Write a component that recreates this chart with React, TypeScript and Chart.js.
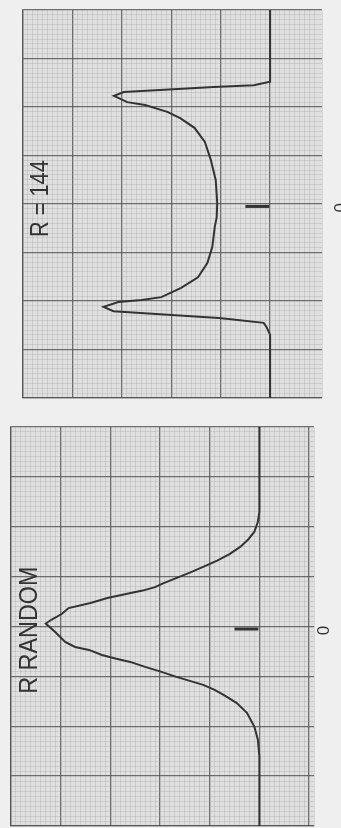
import { useEffect, useRef } from "react";
import { Chart, registerables } from "chart.js";

Chart.register(...registerables);

// Upper trace: R = 144 (position along the sweep vs. deflection)
const ringPos = [
  -4, -2.56, -2.52, -2.45, -2.41, -2.35, -2.31, -2.23, -2.1, -2.04, -1.9, -1.77, -1.57, -1.28,
  -0.91, -0.49, -0.02, 0.27, 0.47, 0.89, 1.22, 1.51, 1.73, 1.92, 1.98, 2.02, 2.12, 2.21, 2.29,
  2.35, 2.37, 2.45, 2.54, 2.7, 4,
];
const ringVal = [
  0, 0, 0, 0.33, 1.14, 2.23, 2.96, 3.16, 2.89, 2.53, 2.08, 1.82, 1.53, 1.32,
  1.2, 1.1, 1.07, 1.08, 1.12, 1.17, 1.27, 1.46, 1.8, 2.2, 2.6, 3.07, 3.37, 3.17, 1.99,
  1.04, 0.84, 0.13, 0.07, 0, 0,
];

// Lower trace: R random
const randomPos = [
  -4, -2.3, -2.1, -1.9, -1.75, -1.6, -1.45, -1.32, -1.2, -1.08, -0.96, -0.86, -0.79, -0.72,
  -0.67, -0.57, -0.47, -0.37, -0.25, -0.14, -0.06, 0.11, 0.31, 0.41, 0.47, 0.57, 0.64, 0.71,
  0.81, 0.9, 1.01, 1.09, 1.17, 1.27, 1.37, 1.53, 1.73, 2.01, 2.27, 2.6, 4,
];
const randomVal = [
  0, 0, 0.03, 0.1, 0.22, 0.38, 0.6, 0.85, 1.12, 1.4, 1.7, 1.95, 2.1, 2.35,
  2.59, 3.06, 3.4, 3.84, 3.98, 4.18, 4.3, 4.11, 3.91, 3.71, 3.43, 3.17, 2.9, 2.6,
  2.3, 2.0, 1.67, 1.4, 1.13, 0.9, 0.72, 0.46, 0.25, 0.1, 0.03, 0, 0,
];

// Short reference mark at the zero position
const markerPos = [0.05, 0.05];
const markerVal = [0.02, 0.5];

const topLabel = "R = 144";
const bottomLabel = "R RANDOM";
const zeroLabel = "0";

const PAPER = "#e0e0e0";
const MAJOR = "rgba(80,80,80,0.8)";
const MINOR = "rgba(160,160,160,0.3)";
const INK = "#333333";
const FONT = "'Liberation Sans', Arial, sans-serif";

type PanelProps = {
  top: number;
  pos: number[];
  val: number[];
  label: string;
  labelVal: number;
  labelPos: number;
  labelSize: number;
  labelSqueeze: number;
  xMin: number;
  padding: { left: number; right: number; top: number; bottom: number };
  zeroOffset: number;
  zeroPos: number;
};

function isMajor(v: number) {
  return Math.abs(v - Math.round(v)) < 1e-6;
}

function Panel(props: PanelProps) {
  const ref = useRef<HTMLCanvasElement | null>(null);

  useEffect(() => {
    const canvas = ref.current;
    if (!canvas) return;
    const { pos, val, label, labelVal, labelPos, labelSize, labelSqueeze, xMin, padding, zeroOffset, zeroPos } =
      props;

    const paperPlugin = {
      id: "paper",
      beforeDraw(chart: Chart) {
        const { ctx, chartArea } = chart;
        ctx.save();
        ctx.fillStyle = PAPER;
        ctx.fillRect(chartArea.left, chartArea.top, chartArea.right - chartArea.left, chartArea.bottom - chartArea.top);
        ctx.restore();
      },
    };

    const textPlugin = {
      id: "rotatedText",
      afterDatasetsDraw(chart: Chart) {
        const { ctx } = chart;
        const xs = chart.scales.x;
        const ys = chart.scales.y;
        ctx.save();
        ctx.fillStyle = INK;
        // panel title, reading upward
        ctx.translate(xs.getPixelForValue(labelVal), ys.getPixelForValue(labelPos));
        ctx.rotate(-Math.PI / 2);
        ctx.scale(labelSqueeze, 1);
        ctx.font = `${labelSize}px ${FONT}`;
        ctx.textAlign = "left";
        ctx.textBaseline = "alphabetic";
        ctx.fillText(label, 0, 0);
        ctx.restore();

        ctx.save();
        ctx.fillStyle = INK;
        ctx.translate(xs.getPixelForValue(xMin) + zeroOffset, ys.getPixelForValue(zeroPos));
        ctx.rotate(-Math.PI / 2);
        ctx.font = `17px ${FONT}`;
        ctx.textAlign = "center";
        ctx.textBaseline = "middle";
        ctx.fillText(zeroLabel, 0, 0);
        ctx.restore();
      },
    };

    const chart = new Chart(canvas, {
      type: "scatter",
      data: {
        datasets: [
          {
            data: pos.map((p, i) => ({ x: val[i], y: p })),
            showLine: true,
            borderColor: INK,
            borderWidth: 2,
            pointRadius: 0,
            tension: 0,
          },
          {
            data: markerPos.map((p, i) => ({ x: markerVal[i], y: p })),
            showLine: true,
            borderColor: INK,
            borderWidth: 3,
            pointRadius: 0,
          },
        ],
      },
      options: {
        animation: false,
        responsive: false,
        devicePixelRatio: 1,
        layout: { padding },
        plugins: { legend: { display: false }, tooltip: { enabled: false } },
        scales: {
          x: {
            type: "linear",
            reverse: true,
            min: xMin,
            max: 5,
            ticks: { display: false, stepSize: 0.1, maxTicksLimit: 500, autoSkip: false },
            grid: {
              drawTicks: false,
              color: (c: any) => (isMajor(c.tick.value) || c.index === 0 ? MAJOR : MINOR),
              lineWidth: (c: any) => (isMajor(c.tick.value) || c.index === 0 ? 1.3 : 1),
            },
            border: { display: true, color: MAJOR, width: 1.3 },
          },
          y: {
            type: "linear",
            reverse: true,
            min: -4,
            max: 4,
            ticks: { display: false, stepSize: 0.1, maxTicksLimit: 500, autoSkip: false },
            grid: {
              drawTicks: false,
              color: (c: any) => (isMajor(c.tick.value) ? MAJOR : MINOR),
              lineWidth: (c: any) => (isMajor(c.tick.value) ? 1.3 : 1),
            },
            border: { display: true, color: MAJOR, width: 1.3 },
          },
        },
      },
      plugins: [paperPlugin, textPlugin],
    });

    return () => chart.destroy();
  }, []);

  return (
    <canvas
      ref={ref}
      width={341}
      height={414}
      style={{ position: "absolute", left: 0, top: props.top, width: 341, height: 414, display: "block" }}
    />
  );
}

export default function App() {
  return (
    <div
      style={{
        position: "absolute",
        left: 0,
        top: 0,
        width: 341,
        height: 828,
        background: "#efefef",
        overflow: "hidden",
      }}
    >
      <Panel
        top={0}
        pos={ringPos}
        val={ringVal}
        label={topLabel}
        labelVal={4.5}
        labelPos={0.68}
        labelSize={25}
        labelSqueeze={0.87}
        xMin={-1.05}
        padding={{ left: 23, right: 19, top: 10, bottom: 16 }}
        zeroOffset={19}
        zeroPos={0.08}
      />
      <Panel
        top={414}
        pos={randomPos}
        val={randomVal}
        label={bottomLabel}
        labelVal={4.47}
        labelPos={1.35}
        labelSize={26}
        labelSqueeze={0.9}
        xMin={-1.1}
        padding={{ left: 11, right: 27, top: 13, bottom: 2 }}
        zeroOffset={10}
        zeroPos={0.08}
      />
    </div>
  );
}
